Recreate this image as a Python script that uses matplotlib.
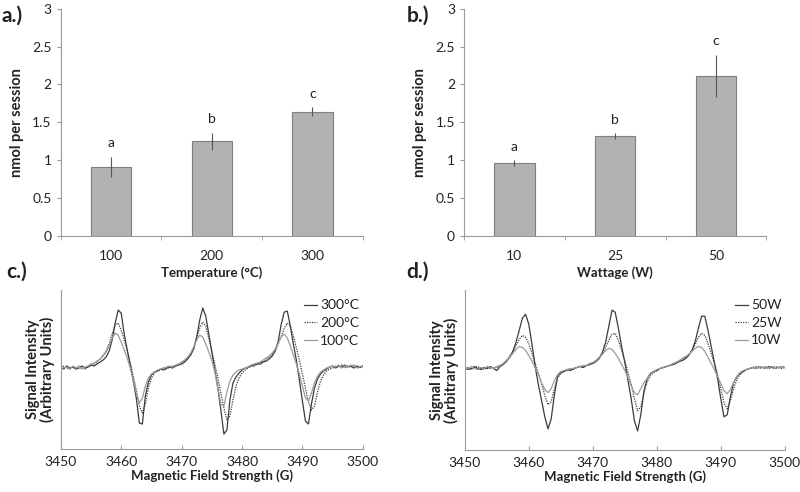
import numpy as np
import matplotlib
matplotlib.use("Agg")
import matplotlib.pyplot as plt

plt.rcParams['font.family'] = ['Lato', 'DejaVu Sans']

# ---- bar data (panels a, b) ----
temp_labels = ['100', '200', '300']
temp_vals = [0.91, 1.25, 1.64]
temp_err = [0.135, 0.11, 0.06]
temp_letters = ['a', 'b', 'c']

watt_labels = ['10', '25', '50']
watt_vals = [0.96, 1.32, 2.11]
watt_err = [0.04, 0.035, 0.28]
watt_letters = ['a', 'b', 'c']

# ---- EPR spectra (panels c, d), field in G, every 0.5 G from 3450 to 3500 ----
field = np.arange(3450, 3500.01, 0.5)

t300 = [1, -1, 2, 0, 1, -1, 0, 2, 0, 1,
        3, 2, 4, 6, 8, 11, 17, 28, 45, 58,
        55, 34, 18, 3, -13, -30, -55, -56, -28, -14,
        -7, -4, -3, -1, -2, 0, 1, 0, 2, 3,
        4, 6, 9, 13, 19, 31, 48, 60, 52, 34,
        16, -2, -20, -42, -66, -62, -32, -15, -9, -5,
        -2, 0, 1, 2, 3, 4, 4, 6, 7, 9,
        12, 17, 27, 44, 56, 57, 42, 24, 8, -12,
        -33, -53, -56, -36, -20, -11, -6, -3, -1, 1,
        2, 0, 2, 1, 3, 1, 2, 0, 2, 1, 2]
t200 = [0, 2, 0, -1, 1, 0, 2, 1, -1, 1,
        3, 4, 6, 9, 13, 17, 24, 34, 43, 45,
        38, 28, 17, 5, -8, -22, -38, -45, -36, -20,
        -10, -5, -3, -2, 0, -1, 1, 2, 2, 4,
        5, 7, 10, 14, 20, 30, 40, 46, 42, 30,
        17, 4, -10, -25, -40, -52, -48, -32, -18, -10,
        -5, -2, 0, 2, 2, 4, 5, 7, 9, 11,
        14, 18, 24, 32, 40, 45, 42, 32, 20, 8,
        -6, -20, -34, -42, -38, -24, -13, -7, -3, -1,
        0, 2, 1, 3, 0, 2, 1, 3, 1, 0, 2]
t100 = [2, 0, 1, -1, 2, 0, 1, -1, 1, 2,
        4, 5, 7, 9, 12, 16, 22, 30, 35, 33,
        26, 18, 10, 0, -12, -25, -35, -30, -18, -10,
        -6, -4, -2, -1, 0, 1, 2, 1, 3, 4,
        6, 8, 11, 15, 21, 28, 33, 31, 24, 16,
        8, -4, -20, -36, -38, -24, -13, -7, -4, -2,
        -1, 0, 1, 3, 4, 5, 6, 8, 10, 12,
        15, 19, 25, 31, 34, 30, 22, 13, 4, -6,
        -18, -30, -33, -25, -15, -8, -4, -2, 0, 1,
        2, 1, 3, 0, 2, 1, 3, 2, 0, 2, 1]

w50 = [1, -1, 0, 2, 0, -1, 1, 0, 2, 0,
       -2, 2, 4, 7, 11, 17, 26, 38, 50, 54,
       44, 24, 2, -16, -32, -48, -60, -50, -26, -8,
       -4, -3, -1, -2, 0, 1, 2, 1, 3, 4,
       5, 7, 10, 16, 26, 42, 58, 56, 40, 22,
       6, -12, -30, -52, -62, -46, -22, -10, -5, -3,
       -2, 0, 1, 2, 3, 4, 5, 7, 8, 10,
       13, 18, 27, 40, 52, 52, 38, 22, 6, -10,
       -30, -48, -46, -28, -14, -8, -5, -3, -1, 0,
       1, 0, 2, 1, 0, 2, 1, 0, 1, 2, 1]
w25 = [0, 1, -1, 1, 2, 0, -1, 1, 0, 1,
       1, 3, 5, 8, 12, 17, 23, 29, 33, 31,
       25, 15, 5, -5, -15, -27, -36, -33, -20, -9,
       -5, -3, -2, 0, -1, 1, 2, 2, 3, 4,
       6, 8, 11, 15, 21, 28, 34, 35, 28, 18,
       8, -4, -16, -30, -42, -38, -24, -13, -7, -4,
       -2, 0, 1, 2, 3, 4, 6, 7, 9, 11,
       14, 18, 24, 31, 35, 33, 25, 15, 5, -6,
       -20, -34, -40, -32, -20, -11, -6, -3, -1, 0,
       1, 2, 0, 1, 2, 0, 1, 2, 1, 0, 1]
w10 = [1, 0, 2, 0, -1, 1, 0, 2, 1, 0,
       2, 3, 5, 8, 11, 15, 19, 22, 21, 18,
       13, 7, 1, -6, -14, -21, -24, -20, -12, -6,
       -3, -2, -1, 0, 0, 1, 2, 3, 3, 5,
       6, 8, 11, 14, 18, 20, 19, 15, 10, 4,
       -2, -9, -17, -24, -26, -20, -14, -10, -6, -3,
       -1, 0, 1, 2, 3, 5, 6, 8, 10, 12,
       14, 17, 20, 22, 21, 17, 11, 5, -1, -8,
       -15, -22, -25, -21, -14, -8, -4, -2, -1, 0,
       1, 0, 2, 1, 0, 1, 2, 0, 1, 2, 1]

AX_GREY = '#9a9a9a'
TXT = '#222222'


def bar_panel(ax, labels, vals, errs, letters, xlabel):
    x = np.arange(len(vals))
    ax.bar(x, vals, width=0.4, color='#b2b2b2', edgecolor='#7f7f7f', linewidth=0.8, zorder=2)
    ax.errorbar(x, vals, yerr=errs, fmt='none', ecolor='#555555', elinewidth=0.8, capsize=0, zorder=3)
    for xi, v, e, let in zip(x, vals, errs, letters):
        ax.annotate(let, (xi, v + e), xytext=(0, 7), textcoords='offset points',
                    ha='center', va='baseline', fontsize=10, color=TXT)
    ax.set_xlim(-0.5, len(vals) - 0.5)
    ax.set_ylim(0, 3)
    ax.set_yticks([0, 0.5, 1, 1.5, 2, 2.5, 3])
    ax.set_yticklabels(['0', '0.5', '1', '1.5', '2', '2.5', '3'])
    ax.set_xticks(x)
    ax.set_xticklabels(labels)
    ax.set_xticks(np.arange(len(vals) + 1) - 0.5, minor=True)
    ax.tick_params(axis='x', which='major', length=0, pad=10, labelsize=10, colors=TXT)
    ax.tick_params(axis='x', which='minor', length=3, direction='out', color=AX_GREY)
    ax.tick_params(axis='y', length=3, direction='out', color=AX_GREY, labelsize=10, labelcolor=TXT)
    for s in ['top', 'right']:
        ax.spines[s].set_visible(False)
    for s in ['left', 'bottom']:
        ax.spines[s].set_color(AX_GREY)
        ax.spines[s].set_linewidth(0.8)
    ax.set_ylabel('nmol per session', fontsize=10.5, fontweight='bold', color=TXT, labelpad=6)
    ax.set_xlabel(xlabel, fontsize=9.5, fontweight='bold', color=TXT, labelpad=3)


def spec_panel(ax, series, names):
    styles = [dict(color='#3c3c3c', ls='-', lw=0.9),
              dict(color='#3c3c3c', ls=(0, (1, 1)), lw=0.9),
              dict(color='#9c9c9c', ls='-', lw=0.9)]
    for ys, nm, st in zip(series, names, styles):
        ax.plot(field, ys, label=nm, **st)
    ax.set_xlim(3450, 3500)
    ax.set_ylim(-81, 78)
    ax.set_xticks([3450, 3460, 3470, 3480, 3490, 3500])
    ax.set_yticks([])
    ax.tick_params(axis='x', length=3, direction='in', color=AX_GREY, labelsize=10,
                   labelcolor=TXT, pad=5)
    for s in ['top', 'right']:
        ax.spines[s].set_visible(False)
    for s in ['left', 'bottom']:
        ax.spines[s].set_color(AX_GREY)
        ax.spines[s].set_linewidth(0.8)
    ax.set_xlabel('Magnetic Field Strength (G)', fontsize=9.5, fontweight='bold', color=TXT, labelpad=1)
    ax.set_ylabel('Signal Intensity\n(Arbitrary Units)', fontsize=10.5, fontweight='bold',
                  color=TXT, labelpad=4, linespacing=1.0)
    leg = ax.legend(loc='upper right', bbox_to_anchor=(1.03, 1.02), frameon=False, fontsize=10,
                    handlelength=1.0, handletextpad=0.2, labelspacing=0.4)
    for t in leg.get_texts():
        t.set_color(TXT)


fig = plt.figure(figsize=(8, 4.92), dpi=100)
ax_a = fig.add_axes([0.076, 0.520, 0.3775, 0.4624])
ax_b = fig.add_axes([0.580, 0.520, 0.378, 0.4624])
ax_c = fig.add_axes([0.076, 0.0874, 0.3775, 0.323])
ax_d = fig.add_axes([0.581, 0.0854, 0.400, 0.325])

bar_panel(ax_a, temp_labels, temp_vals, temp_err, temp_letters, 'Temperature (°C)')
bar_panel(ax_b, watt_labels, watt_vals, watt_err, watt_letters, 'Wattage (W)')
spec_panel(ax_c, [t300, t200, t100], ['300°C', '200°C', '100°C'])
spec_panel(ax_d, [w50, w25, w10], ['50W', '25W', '10W'])

fig.text(0.002, 0.968, 'a.)', fontsize=15, fontweight='bold', va='center', color=TXT)
fig.text(0.508, 0.968, 'b.)', fontsize=15, fontweight='bold', va='center', color=TXT)
fig.text(0.008, 0.447, 'c.)', fontsize=15, fontweight='bold', va='center', color=TXT)
fig.text(0.508, 0.447, 'd.)', fontsize=15, fontweight='bold', va='center', color=TXT)

fig.savefig('out.png', dpi=100)
